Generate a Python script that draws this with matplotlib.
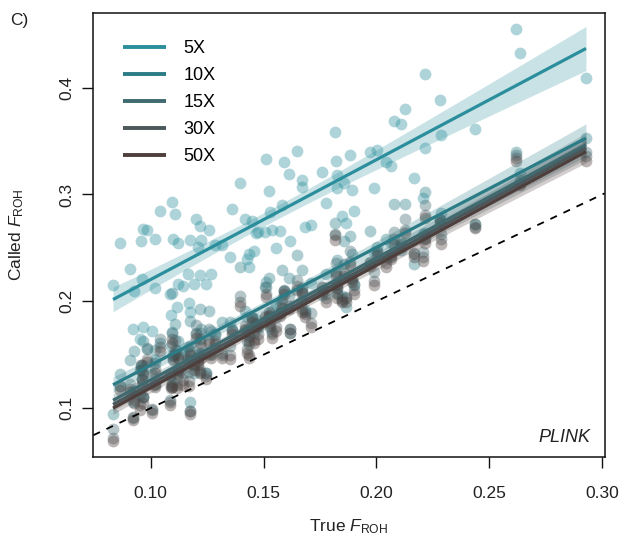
import numpy as np
import matplotlib
matplotlib.use("Agg")
import matplotlib.pyplot as plt

plt.rcParams['font.family'] = ['Liberation Sans', 'DejaVu Sans']
plt.rcParams['mathtext.fontset'] = 'custom'
plt.rcParams['mathtext.rm'] = 'Liberation Sans'
plt.rcParams['mathtext.it'] = 'Liberation Sans:italic'

# True F_ROH per individual
true_f = [0.0833, 0.0862, 0.0907, 0.0921, 0.0927, 0.0957, 0.0952, 0.0962, 0.0965, 0.0968,
          0.0983, 0.1004, 0.1019, 0.1021, 0.1039, 0.1086, 0.1090, 0.1094, 0.1093, 0.1098,
          0.1107, 0.1119, 0.1117, 0.1122, 0.1143, 0.1163, 0.1169, 0.1172, 0.1175, 0.1190,
          0.1202, 0.1210, 0.1217, 0.1219, 0.1222, 0.1243, 0.1258, 0.1267, 0.1284, 0.1315,
          0.1350, 0.1358, 0.1394, 0.1417, 0.1426, 0.1435, 0.1437, 0.1447, 0.1459, 0.1467,
          0.1474, 0.1506, 0.1512, 0.1524, 0.1527, 0.1538, 0.1553, 0.1571, 0.1580, 0.1592,
          0.1612, 0.1615, 0.1648, 0.1669, 0.1671, 0.1683, 0.1710, 0.1757, 0.1775, 0.1816,
          0.1822, 0.1824, 0.1825, 0.1848, 0.1857, 0.1866, 0.1881, 0.1893, 0.1899, 0.1970,
          0.1988, 0.2002, 0.2041, 0.2064, 0.2076, 0.2109, 0.2126, 0.2165, 0.2206, 0.2215,
          0.2213, 0.2283, 0.2286, 0.2436, 0.2617, 0.2636, 0.2928]

called_5x = [0.2155, 0.2549, 0.2305, 0.1738, 0.2099, 0.2562, 0.1644, 0.2212, 0.2680, 0.1757,
             0.2668, 0.1725, 0.2586, 0.2125, 0.2843, 0.2068, 0.1875, 0.1713, 0.2930, 0.2581,
             0.2817, 0.2162, 0.1944, 0.2543, 0.2143, 0.2256, 0.1987, 0.1900, 0.2574, 0.2162,
             0.2768, 0.2511, 0.2705, 0.2243, 0.2574, 0.2162, 0.2668, 0.2256, 0.2524, 0.2530,
             0.2412, 0.2864, 0.3110, 0.2768, 0.2393, 0.2443, 0.2318, 0.2749, 0.2474, 0.2642,
             0.2649, 0.2649, 0.3330, 0.3036, 0.2836, 0.2668, 0.2499, 0.2655, 0.2899, 0.3304,
             0.3192, 0.2567, 0.3404, 0.3136, 0.3067, 0.2693, 0.2712, 0.3211, 0.2918, 0.3585,
             0.3316, 0.3061, 0.3180, 0.2799, 0.3110, 0.2736, 0.3373, 0.3042, 0.2848, 0.3398,
             0.3061, 0.3417, 0.3304, 0.3267, 0.3691, 0.3660, 0.3801, 0.3154, 0.2967, 0.3435,
             0.4125, 0.3888, 0.3557, 0.3613, 0.4550, 0.4328, 0.4094]

called_10x = [0.094, 0.132, 0.145, 0.106, 0.153, 0.138, 0.136, 0.127, 0.163, 0.110,
              0.155, 0.132, 0.154, 0.145, 0.161, 0.130, 0.158, 0.120, 0.208, 0.145,
              0.179, 0.136, 0.154, 0.163, 0.151, 0.157, 0.152, 0.106, 0.182, 0.133,
              0.170, 0.151, 0.193, 0.152, 0.174, 0.133, 0.191, 0.172, 0.169, 0.181,
              0.181, 0.174, 0.232, 0.191, 0.185, 0.175, 0.171, 0.185, 0.177, 0.183,
              0.175, 0.213, 0.218, 0.222, 0.175, 0.191, 0.197, 0.197, 0.229, 0.210,
              0.222, 0.170, 0.243, 0.210, 0.229, 0.192, 0.217, 0.206, 0.226, 0.273,
              0.226, 0.208, 0.239, 0.205, 0.256, 0.195, 0.261, 0.244, 0.216, 0.266,
              0.246, 0.251, 0.258, 0.255, 0.291, 0.248, 0.291, 0.235, 0.263, 0.264,
              0.302, 0.276, 0.283, 0.272, 0.340, 0.320, 0.353]

called_15x = [0.080, 0.121, 0.123, 0.091, 0.116, 0.140, 0.112, 0.127, 0.140, 0.110,
              0.156, 0.098, 0.142, 0.122, 0.165, 0.108, 0.131, 0.122, 0.170, 0.150,
              0.164, 0.136, 0.129, 0.147, 0.133, 0.147, 0.134, 0.097, 0.158, 0.140,
              0.178, 0.145, 0.170, 0.134, 0.157, 0.133, 0.174, 0.150, 0.168, 0.152,
              0.158, 0.173, 0.205, 0.174, 0.163, 0.168, 0.160, 0.184, 0.170, 0.180,
              0.177, 0.186, 0.213, 0.187, 0.189, 0.171, 0.185, 0.189, 0.202, 0.211,
              0.205, 0.174, 0.220, 0.209, 0.201, 0.190, 0.189, 0.213, 0.207, 0.263,
              0.236, 0.216, 0.212, 0.200, 0.235, 0.204, 0.247, 0.221, 0.215, 0.237,
              0.227, 0.247, 0.241, 0.241, 0.265, 0.256, 0.277, 0.244, 0.246, 0.259,
              0.290, 0.277, 0.263, 0.270, 0.337, 0.314, 0.340]

called_30x = [0.072, 0.121, 0.118, 0.092, 0.108, 0.140, 0.103, 0.126, 0.134, 0.110,
              0.146, 0.099, 0.137, 0.123, 0.157, 0.106, 0.121, 0.124, 0.165, 0.149,
              0.154, 0.137, 0.122, 0.150, 0.126, 0.145, 0.125, 0.097, 0.153, 0.140,
              0.169, 0.143, 0.165, 0.136, 0.151, 0.130, 0.164, 0.151, 0.163, 0.150,
              0.150, 0.172, 0.199, 0.177, 0.155, 0.167, 0.150, 0.184, 0.164, 0.179,
              0.169, 0.185, 0.207, 0.190, 0.180, 0.169, 0.176, 0.189, 0.198, 0.210,
              0.196, 0.174, 0.214, 0.212, 0.193, 0.188, 0.180, 0.213, 0.203, 0.262,
              0.227, 0.215, 0.207, 0.202, 0.227, 0.203, 0.237, 0.221, 0.211, 0.236,
              0.219, 0.246, 0.236, 0.243, 0.258, 0.254, 0.267, 0.245, 0.241, 0.258,
              0.281, 0.276, 0.258, 0.272, 0.334, 0.311, 0.336]

called_50x = [0.069, 0.117, 0.115, 0.089, 0.105, 0.136, 0.098, 0.123, 0.132, 0.105,
              0.143, 0.095, 0.133, 0.120, 0.153, 0.103, 0.119, 0.120, 0.161, 0.146,
              0.151, 0.132, 0.119, 0.147, 0.122, 0.142, 0.121, 0.094, 0.150, 0.136,
              0.166, 0.140, 0.161, 0.133, 0.147, 0.127, 0.161, 0.147, 0.160, 0.147,
              0.146, 0.169, 0.196, 0.173, 0.152, 0.163, 0.147, 0.181, 0.161, 0.176,
              0.165, 0.182, 0.204, 0.186, 0.177, 0.166, 0.172, 0.186, 0.194, 0.207,
              0.193, 0.170, 0.211, 0.208, 0.190, 0.185, 0.176, 0.210, 0.199, 0.257,
              0.224, 0.212, 0.203, 0.199, 0.224, 0.199, 0.234, 0.218, 0.207, 0.233,
              0.215, 0.243, 0.232, 0.240, 0.254, 0.251, 0.264, 0.241, 0.238, 0.255,
              0.278, 0.273, 0.254, 0.269, 0.331, 0.309, 0.331]

series_labels = ["5X", "10X", "15X", "30X", "50X"]
series_values = [called_5x, called_10x, called_15x, called_30x, called_50x]
series_colors = ["#2a8e9c", "#2b7c86", "#3f6a70", "#4a585c", "#4e3f3c"]

x_ticks = [0.10, 0.15, 0.20, 0.25, 0.30]
y_ticks = [0.1, 0.2, 0.3, 0.4]

fig = plt.figure(figsize=(6.25, 5.4), dpi=100)
ax = fig.add_axes([0.1494, 0.1541, 0.8178, 0.8224])

x = np.asarray(true_f)
n = len(x)
t95 = 1.985
xs = np.linspace(x.min(), x.max(), 200)

for vals, col in zip(series_values, series_colors):
    ax.scatter(x, vals, s=72, color=col, alpha=0.38, linewidths=0, zorder=2)

handles = []
for vals, col, lab in zip(series_values, series_colors, series_labels):
    y = np.asarray(vals)
    b, a = np.polyfit(x, y, 1)
    resid = y - (a + b * x)
    s = np.sqrt(np.sum(resid ** 2) / (n - 2))
    sxx = np.sum((x - x.mean()) ** 2)
    se = s * np.sqrt(1.0 / n + (xs - x.mean()) ** 2 / sxx)
    yfit = a + b * xs
    ax.fill_between(xs, yfit - t95 * se, yfit + t95 * se, color=col, alpha=0.25,
                    linewidth=0, zorder=3)
    h, = ax.plot(xs, yfit, color=col, lw=2.3, solid_capstyle='butt', zorder=4, label=lab)
    handles.append(h)

ax.axline((0.1, 0.1), slope=1, color='black', lw=1.3, ls=(0, (4, 4)), zorder=5)

ax.set_xlim(0.0746, 0.3010)
ax.set_ylim(0.0544, 0.4702)
ax.set_xticks(x_ticks)
ax.set_xticklabels([f"{v:.2f}" for v in x_ticks])
ax.set_yticks(y_ticks)
ax.set_yticklabels([f"{v:.1f}" for v in y_ticks], rotation=90, va='center')
ax.tick_params(direction='out', length=8, width=1, labelsize=12.5, colors='#111111',
               labelcolor='#222222')
ax.tick_params(axis='x', pad=13)
ax.tick_params(axis='y', pad=6)
for sp in ax.spines.values():
    sp.set_linewidth(1.1)
    sp.set_color('#111111')

ax.set_xlabel(r"True $\mathit{F}_{\mathrm{ROH}}$", fontsize=12.5, labelpad=12, color='#222222')
ax.set_ylabel(r"Called $\mathit{F}_{\mathrm{ROH}}$", fontsize=12.5, labelpad=24, color='#222222')

leg = ax.legend(handles=handles, loc='upper left', bbox_to_anchor=(0.037, 0.962), frameon=False,
                fontsize=13, handlelength=2.35, handletextpad=1.0, labelspacing=0.55,
                borderaxespad=0.2)
for lh in leg.get_lines():
    lh.set_linewidth(2.8)

ax.text(0.972, 0.025, "PLINK", transform=ax.transAxes, ha='right', va='bottom',
        fontsize=13, style='italic', color='#222222')
fig.text(10 / 625, 1 - 20 / 540, "C)", ha='left', va='center', fontsize=12.5, color='#222222')

fig.savefig("out.png", dpi=100)
